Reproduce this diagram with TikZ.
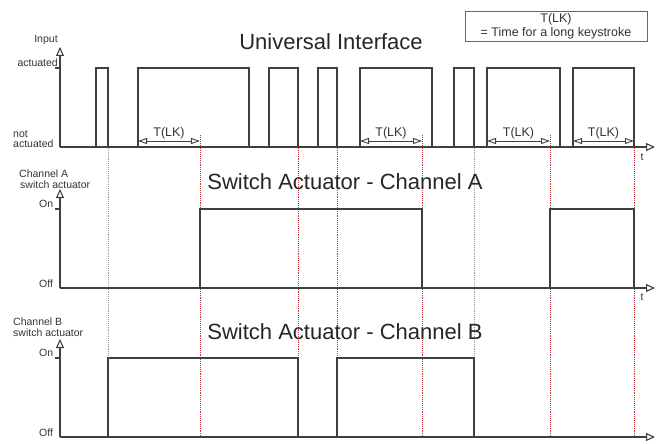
\documentclass[tikz,border=0pt]{standalone}
\usepackage{fontspec}
\setmainfont{Liberation Sans}
\usetikzlibrary{arrows.meta}
\begin{document}
\begin{tikzpicture}[x=1pt,y=-1pt,
  sig/.style={draw=black!75, line width=1.1pt},
  axisln/.style={draw=black!75, line width=1.1pt, -{Triangle[open,length=9pt,width=8pt]}},
  dimln/.style={draw=black!75, line width=0.9pt, {Triangle[open,length=9pt,width=6pt]}-{Triangle[open,length=9pt,width=6pt]}},
  reddot/.style={draw=red!55!gray, line width=0.9pt, densely dotted},
  greydot/.style={draw=gray!80, line width=0.9pt, densely dotted},
  lbl/.style={font=\fontsize{10.5}{11}\selectfont, text=black!80, inner sep=0pt},
  ttl/.style={font=\fontsize{22}{24}\selectfont, text=black!85, inner sep=0pt},
  tlk/.style={font=\fontsize{12.5}{13}\selectfont, text=black!80, inner sep=1.5pt, above},
  legend/.style={draw=black!60, line width=1pt, minimum width=182pt, minimum height=30pt, inner sep=0pt}
]
\useasboundingbox (0,0) rectangle (664,444);

% dotted guide lines
\draw[greydot] (108,148) -- (108,437);
\draw[reddot]  (200,135) -- (200,437);
\draw[reddot]  (298,148) -- (298,437);
\draw[reddot]  (337,148) -- (337,437);
\draw[reddot]  (422,135) -- (422,437);
\draw[greydot] (474,148) -- (474,437);
\draw[reddot]  (550,135) -- (550,437);
\draw[reddot]  (634,135) -- (634,437);

% ---------- Panel 1: Universal Interface ----------
\coordinate (o1) at (60,147);
\coordinate (y1) at (60,47);
\coordinate (x1) at (655,147);
\draw[axisln] (o1) -- (y1);
\draw[axisln] (o1) -- (x1);
\draw[sig] (55,68) -- (60,68);
\node[lbl] (inp) at (46,40) {Input};
\node[lbl, anchor=east] (act) at (58,63) {actuated};
\node[lbl, anchor=west] (nota) at (13,134) {not};
\node[lbl, anchor=west] (nota2) at (13,144) {actuated};
\node[lbl] (t1) at (642,157) {t};
\node[ttl] (title1) at (331,42) {Universal Interface};

\foreach \a/\b in {96/108, 138/249, 269/298, 318/337, 360/432, 454/474, 487/560, 573/634}{
  \draw[sig] (\a,147) -- (\a,68) -- (\b,68) -- (\b,147);
}

% T(LK) dimension arrows
\foreach \a/\b [count=\i] in {138/200, 360/422, 487/550, 573/634}{
  \coordinate (la\i) at (\a,141);
  \coordinate (lb\i) at (\b,141);
  \draw[dimln] (la\i) -- node[tlk] {T(LK)} (lb\i);
}

% legend
\node[legend] (leg) at (556,27) {};
\node[font=\fontsize{12.5}{13}\selectfont, text=black!80, inner sep=0pt] (leg1) at (556,19.5) {T(LK)};
\node[font=\fontsize{12.5}{13}\selectfont, text=black!80, inner sep=0pt] (leg2) at (556,33.5) {= Time for a long keystroke};

% ---------- Panel 2: Channel A ----------
\coordinate (o2) at (60,288);
\coordinate (y2) at (60,189);
\coordinate (x2) at (655,288);
\draw[axisln] (o2) -- (y2);
\draw[axisln] (o2) -- (x2);
\draw[sig] (55,209) -- (60,209);
\node[lbl, anchor=west] (cha) at (19,174) {Channel A};
\node[lbl, anchor=west] (swa) at (20,185) {switch actuator};
\node[lbl, anchor=west] (ona) at (39,204) {On};
\node[lbl, anchor=west] (offa) at (39,284) {Off};
\node[lbl] (t2) at (642,297) {t};
\node[ttl] (title2) at (345,182) {Switch Actuator - Channel A};
\foreach \a/\b in {200/422, 550/634}{
  \draw[sig] (\a,288) -- (\a,209) -- (\b,209) -- (\b,288);
}

% ---------- Panel 3: Channel B ----------
\coordinate (o3) at (60,437);
\coordinate (y3) at (60,339);
\coordinate (x3) at (655,437);
\draw[axisln] (o3) -- (y3);
\draw[axisln] (o3) -- (x3);
\draw[sig] (55,358) -- (60,358);
\node[lbl, anchor=west] (chb) at (13,322) {Channel B};
\node[lbl, anchor=west] (swb) at (13,333) {switch actuator};
\node[lbl, anchor=west] (onb) at (39,353) {On};
\node[lbl, anchor=west] (offb) at (39,433) {Off};
\node[ttl] (title3) at (345,332) {Switch Actuator - Channel B};
\foreach \a/\b in {108/298, 337/474}{
  \draw[sig] (\a,437) -- (\a,358) -- (\b,358) -- (\b,437);
}
\end{tikzpicture}
\end{document}
